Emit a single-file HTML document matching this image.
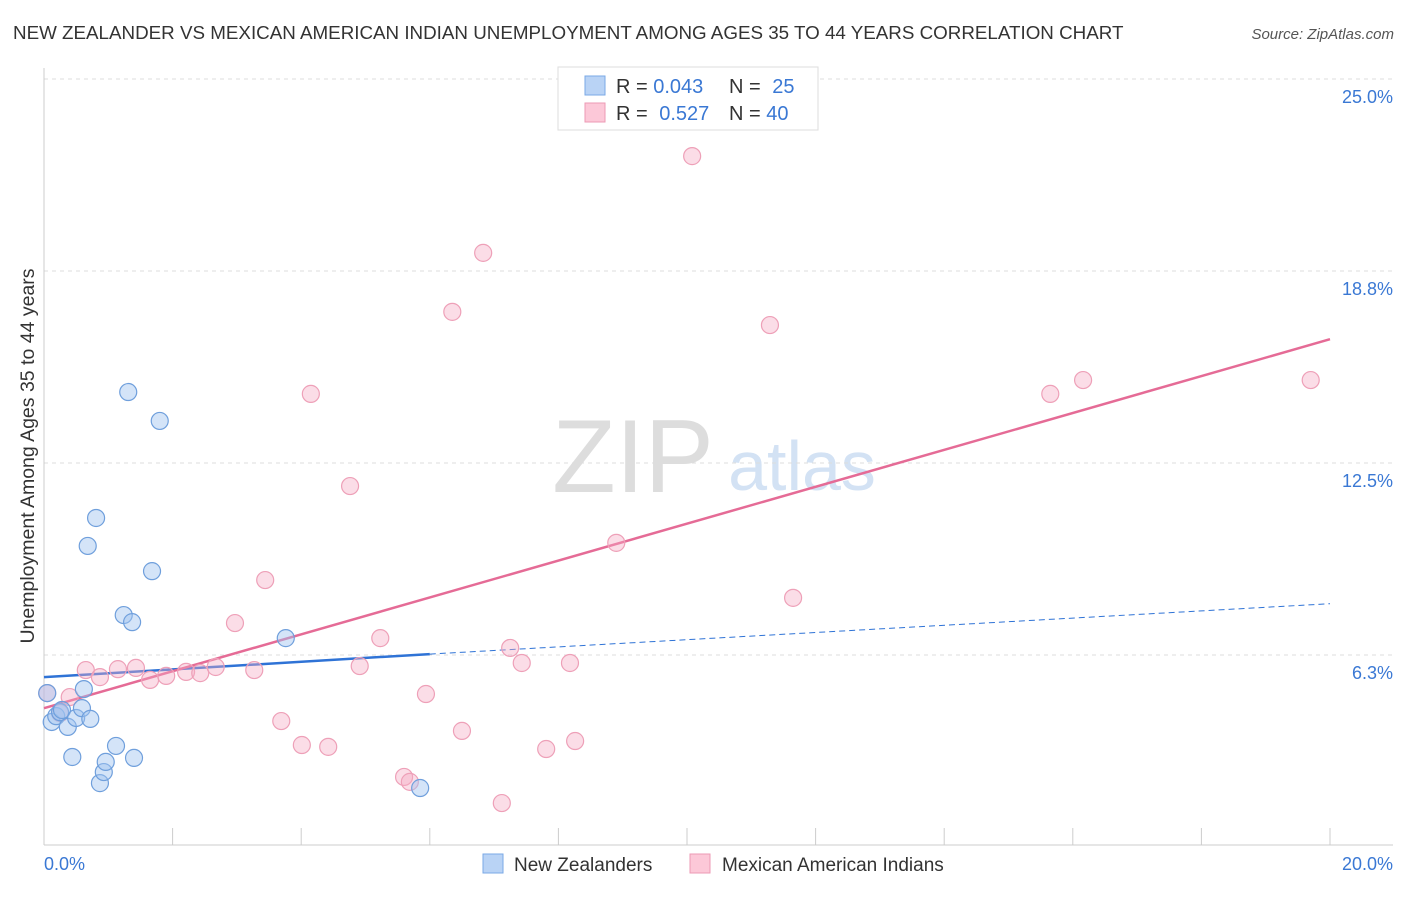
<!DOCTYPE html>
<html><head><meta charset="utf-8"><style>
body{margin:0;background:#fff;font-family:"Liberation Sans",sans-serif}
svg text{font-family:"Liberation Sans",sans-serif}
</style></head><body>
<svg id="chart" width="1406" height="892" xmlns="http://www.w3.org/2000/svg">
<text x="13" y="39" font-size="18.8" fill="#333">NEW ZEALANDER VS MEXICAN AMERICAN INDIAN UNEMPLOYMENT AMONG AGES 35 TO 44 YEARS CORRELATION CHART</text>
<text x="1394" y="39" font-size="15" fill="#555" font-style="italic" text-anchor="end">Source: ZipAtlas.com</text>
<g>
<text x="633" y="492" font-size="104" fill="#ddd" font-family="Liberation Serif" text-anchor="middle">ZIP</text>
<text x="802" y="490" font-size="70" fill="#d3e2f4" text-anchor="middle">atlas</text>
</g>
<g id="grid"></g>
<line x1="44" y1="68" x2="44" y2="845" stroke="#ccc"/>
<line x1="44" y1="845" x2="1393" y2="845" stroke="#ccc"/>
<g id="xticks"></g>
<text x="44" y="870" font-size="18" fill="#3a78d4">0.0%</text>
<text x="1393" y="870" font-size="18" fill="#3a78d4" text-anchor="end">20.0%</text>
<text transform="translate(34,456) rotate(-90)" font-size="19.5" fill="#333" text-anchor="middle">Unemployment Among Ages 35 to 44 years</text>
<g id="trends"></g>
<g id="points"></g>
<g>
<rect x="558" y="67" width="260" height="63" fill="#fff" stroke="#ddd"/>
<rect x="585" y="76" width="20" height="19" fill="#b9d3f5" stroke="#7aa8e6"/>
<rect x="585" y="103" width="20" height="19" fill="#fcc8d8" stroke="#ec9ab4"/>
<text x="616" y="93" font-size="20" fill="#333">R = <tspan fill="#3a78d4">0.043</tspan></text>
<text x="729" y="93" font-size="20" fill="#333">N = <tspan fill="#3a78d4" dx="6">25</tspan></text>
<text x="616" y="120" font-size="20" fill="#333">R = <tspan fill="#3a78d4" dx="6">0.527</tspan></text>
<text x="729" y="120" font-size="20" fill="#333">N = <tspan fill="#3a78d4">40</tspan></text>
</g>
<g>
<rect x="483" y="854" width="20" height="19" fill="#b9d3f5" stroke="#7aa8e6"/>
<text x="514" y="871" font-size="19" fill="#333">New Zealanders</text>
<rect x="690" y="854" width="20" height="19" fill="#fcc8d8" stroke="#ec9ab4"/>
<text x="722" y="871" font-size="19" fill="#333">Mexican American Indians</text>
</g>
</svg>
<script>
const yTicks=[6.25,12.5,18.75,25];
const yTickLabels=["6.3%","12.5%","18.8%","25.0%"];
const blueX=[.05,.12,.19,.25,.28,.37,.44,.50,.62,.59,.72,.68,.81,.87,.93,.96,1.12,1.24,1.31,1.37,1.40,1.68,1.80,3.76,5.85];
const blueY=[5.01,4.07,4.26,4.39,4.46,3.91,2.93,4.20,5.14,4.52,4.17,9.80,10.71,2.08,2.44,2.77,3.29,7.55,14.81,7.32,2.90,8.98,13.87,6.80,1.92];
const pinkX=[.05,.25,.40,.65,.87,1.15,1.43,1.65,1.90,2.21,2.43,2.67,2.97,3.27,3.44,3.69,4.01,4.15,4.42,4.76,4.91,5.23,5.60,5.69,5.94,6.35,6.50,6.83,7.12,7.25,7.43,7.81,8.18,8.26,8.90,10.08,11.29,11.65,15.65,16.16,19.70];
const pinkY=[5.01,4.36,4.88,5.76,5.53,5.79,5.83,5.44,5.57,5.70,5.66,5.86,7.29,5.76,8.69,4.10,3.32,14.75,3.26,11.75,5.89,6.80,2.28,2.12,4.98,17.42,3.78,19.34,1.43,6.48,5.99,3.19,5.99,3.45,9.90,22.49,16.99,8.11,14.75,15.20,15.20];
const blueTrend=[5.53,6.28,7.92]; // values at x=0, 6, 20
const pinkTrend=[4.52,16.53]; // values at x=0, 20
const NS="http://www.w3.org/2000/svg";
const sx=v=>44+v/20*1286;
const sy=v=>847-v/25*768;
function mk(tag,attrs,parent){const e=document.createElementNS(NS,tag);for(const k in attrs)e.setAttribute(k,attrs[k]);document.getElementById(parent).appendChild(e);return e;}
yTicks.forEach((t,i)=>{
 const l=mk('line',{x1:44,x2:1393,y1:sy(t),y2:sy(t),stroke:'#ddd','stroke-dasharray':'4,4'},'grid');
 
 
 const tx=mk('text',{x:1393,y:sy(t)+24,'font-size':18,fill:'#3a78d4','text-anchor':'end'},'grid');
 tx.textContent=yTickLabels[i];
 
 
});
for(let i=0;i<=10;i++){
 const l=mk('line',{x1:sx(i*2),x2:sx(i*2),y1:828,y2:845,stroke:'#ccc'},'xticks');
 
 
}
let t=mk('line',{x1:sx(0),y1:sy(blueTrend[0]),x2:sx(6),y2:sy(blueTrend[1]),stroke:'#2f73d6','stroke-width':2.5},'trends');


t=mk('line',{x1:sx(6),y1:sy(blueTrend[1]),x2:sx(20),y2:sy(blueTrend[2]),stroke:'#2f73d6','stroke-width':1,'stroke-dasharray':'6,4'},'trends');


t=mk('line',{x1:sx(0),y1:sy(pinkTrend[0]),x2:sx(20),y2:sy(pinkTrend[1]),stroke:'#e56b96','stroke-width':2.5},'trends');


pinkX.forEach((x,i)=>{
 const c=mk('circle',{cx:sx(x),cy:sy(pinkY[i]),r:8.5,fill:'rgba(246,170,195,0.4)',stroke:'#eea0b8','stroke-width':1.2},'points');
 
 
});
blueX.forEach((x,i)=>{
 const c=mk('circle',{cx:sx(x),cy:sy(blueY[i]),r:8.5,fill:'rgba(160,195,240,0.45)',stroke:'#6f9fdc','stroke-width':1.2},'points');
 
 
});
</script>
</body></html>
